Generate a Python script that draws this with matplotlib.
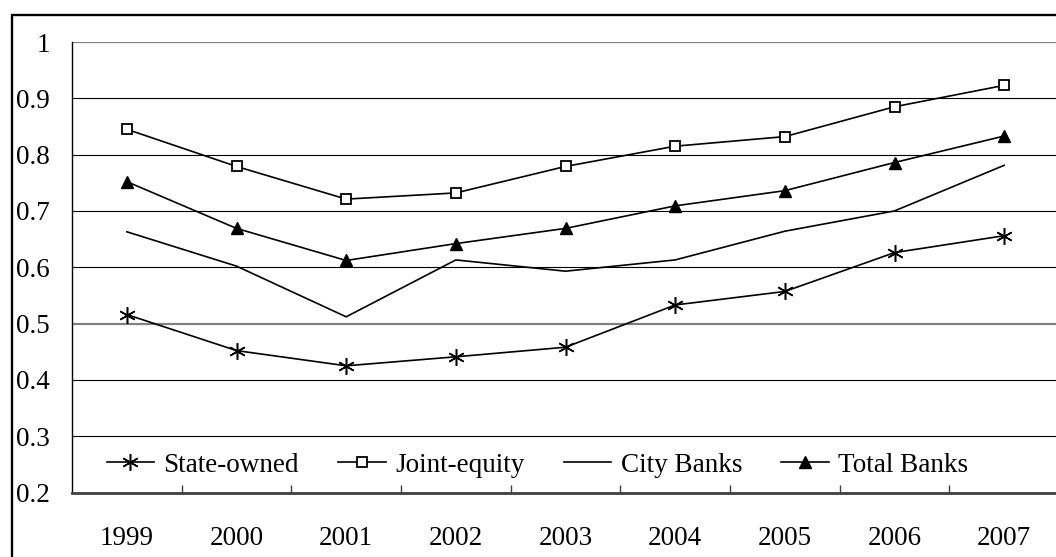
import matplotlib
matplotlib.use("Agg")
import matplotlib.pyplot as plt
from matplotlib.patches import Rectangle

years = ["1999", "2000", "2001", "2002", "2003", "2004", "2005", "2006", "2007"]
state_owned = [0.516, 0.452, 0.425, 0.441, 0.458, 0.533, 0.557, 0.626, 0.656]
joint_equity = [0.845, 0.779, 0.721, 0.732, 0.779, 0.815, 0.832, 0.885, 0.923]
city_banks = [0.663, 0.602, 0.512, 0.613, 0.593, 0.613, 0.664, 0.700, 0.781]
total_banks = [0.752, 0.669, 0.612, 0.642, 0.669, 0.709, 0.736, 0.786, 0.833]
y_ticks = [0.2, 0.3, 0.4, 0.5, 0.6, 0.7, 0.8, 0.9, 1.0]
y_labels = ["0.2", "0.3", "0.4", "0.5", "0.6", "0.7", "0.8", "0.9", "1"]

plt.rcParams['font.family'] = ['Liberation Serif', 'DejaVu Serif']

W, H = 1056, 557
fig = plt.figure(figsize=(W / 100, H / 100), dpi=100)
fig.patch.set_facecolor('white')

# outer chart border (extends past the cropped right/bottom edges)
fig.patches.append(Rectangle((12 / W, -0.1), 1.2, (H - 15) / H + 0.1,
                             transform=fig.transFigure, fill=False,
                             edgecolor='black', linewidth=1.7, clip_on=False))

left, right, top, bottom = 72, 1059, 42, 492.5
ax = fig.add_axes([left / W, 1 - bottom / H, (right - left) / W, (bottom - top) / H])
ax.set_facecolor('none')

x = list(range(len(years)))
lw = 1.2
ax.plot(x, state_owned, color='black', lw=lw, marker=(6, 2, 0), markersize=12,
        markeredgewidth=1.1, label='State-owned', zorder=4)
ax.plot(x, joint_equity, color='black', lw=lw, marker='s', markersize=7.5,
        markerfacecolor='white', markeredgewidth=1.3, label='Joint-equity', zorder=4)
ax.plot(x, city_banks, color='black', lw=lw, label='City Banks', zorder=4)
ax.plot(x, total_banks, color='black', lw=lw, marker='^', markersize=8,
        markerfacecolor='black', label='Total Banks', zorder=4)

ax.set_xlim(-0.5, len(years) - 0.5)
ax.set_ylim(0.2, 1.0)
ax.set_yticks(y_ticks)
ax.set_yticklabels(y_labels)
ax.set_xticks(x)
ax.set_xticklabels(years)
ax.set_xticks([i + 0.5 for i in range(len(years) - 1)], minor=True)

ax.tick_params(axis='y', length=0, pad=16, labelsize=19.5)
ax.tick_params(axis='x', which='major', length=0, pad=24, labelsize=19.5)
ax.tick_params(axis='x', which='minor', length=6, direction='in', width=1, color='#404040')

# horizontal grid lines
for v in y_ticks[1:]:
    if abs(v - 1.0) < 1e-9 or abs(v - 0.5) < 1e-9:
        ax.axhline(v, color='#808080', lw=1.6, zorder=1)
    else:
        ax.axhline(v, color='black', lw=0.8, zorder=1)

for s in ['top', 'right']:
    ax.spines[s].set_visible(False)
ax.spines['left'].set_color('black')
ax.spines['left'].set_linewidth(1.0)
ax.spines['bottom'].set_color('#404040')
ax.spines['bottom'].set_linewidth(2.0)

leg = ax.legend(loc='center left', bbox_to_anchor=(0.035, 0.061), ncol=4,
                frameon=False, fontsize=19.5, borderpad=0, borderaxespad=0,
                handlelength=1.75, handletextpad=0.35, columnspacing=1.45)

fig.savefig('out.png', dpi=100, facecolor='white')
